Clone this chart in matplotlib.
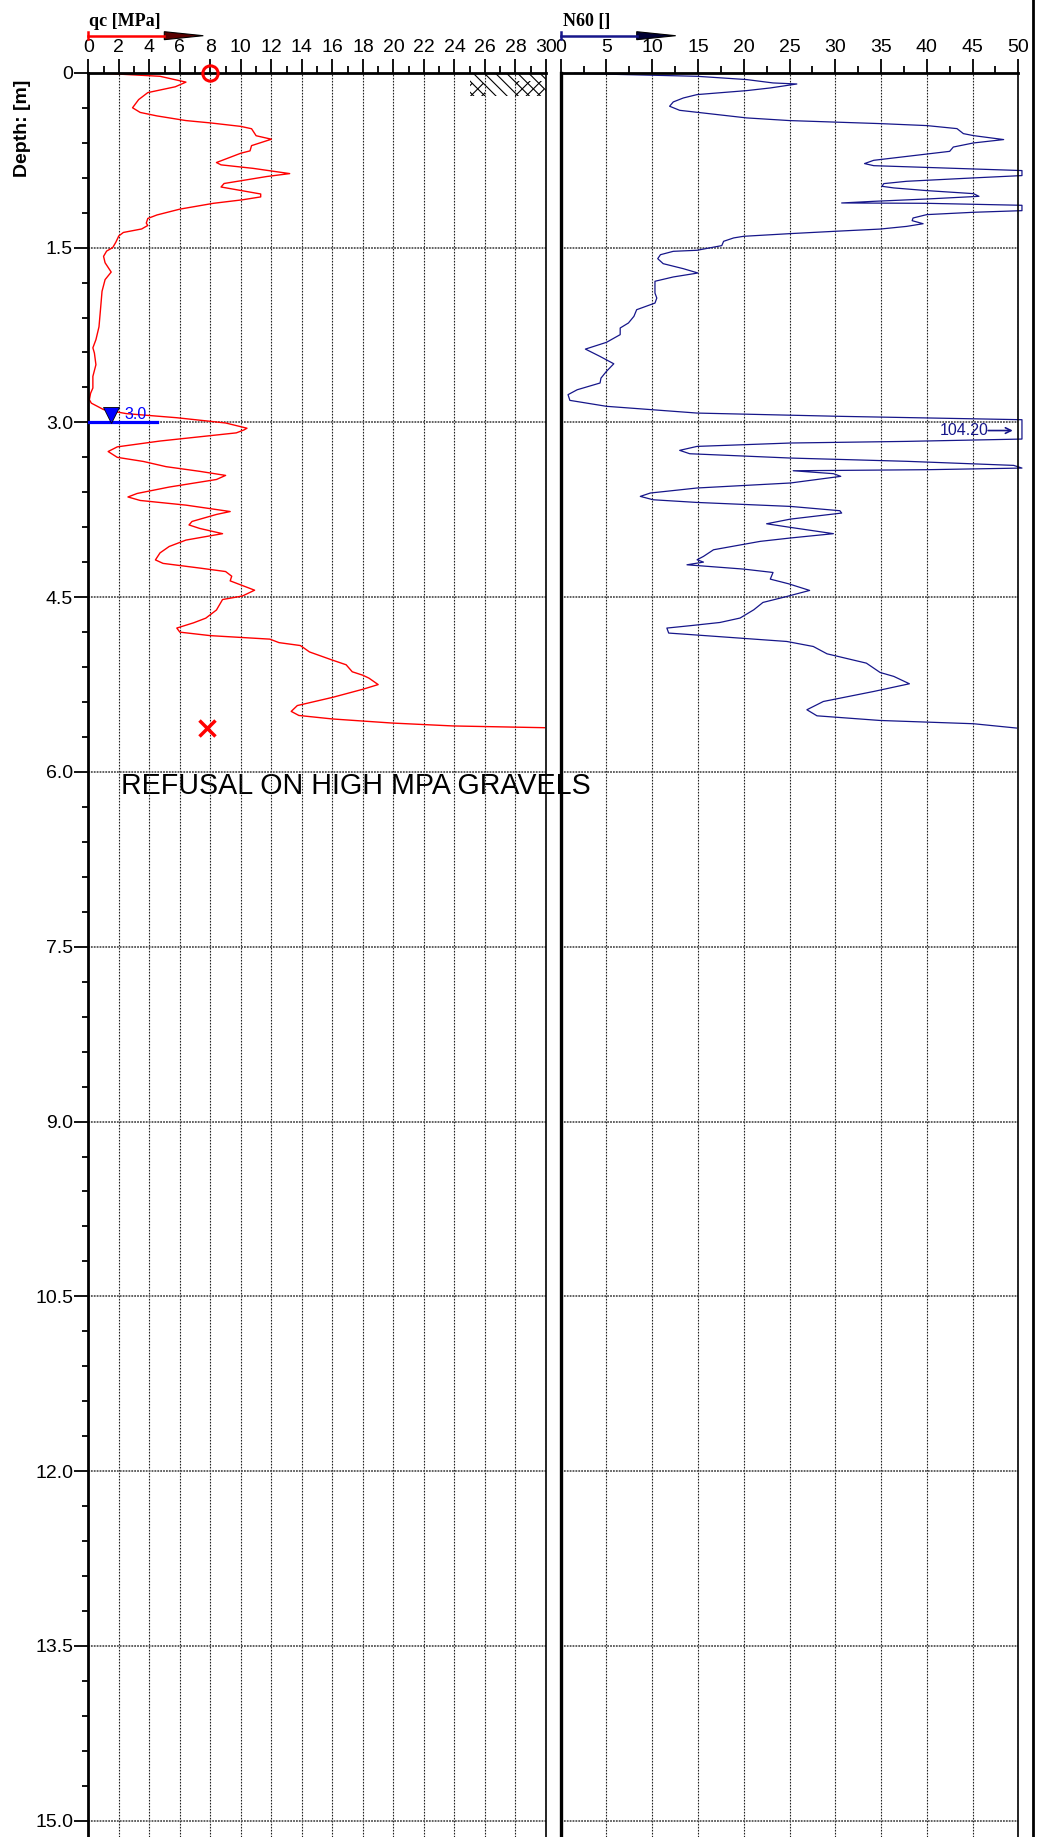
import matplotlib

matplotlib.use("Agg")
import matplotlib.pyplot as plt
from matplotlib.lines import Line2D
from matplotlib.patches import Polygon, Rectangle
from matplotlib.ticker import FixedLocator, MultipleLocator

# ---------------------------------------------------------------------------
# Data read off the CPT log
# ---------------------------------------------------------------------------

QC_DEPTH = [
    0.00, 0.03, 0.08, 0.12, 0.17, 0.23, 0.30, 0.34, 0.37, 0.41, 0.43, 0.46, 0.48,
    0.54, 0.57, 0.625, 0.67, 0.69, 0.77, 0.79, 0.82, 0.865, 0.89, 0.95, 0.98, 1.01,
    1.04, 1.065, 1.09, 1.12, 1.17, 1.22, 1.25, 1.29, 1.31, 1.34, 1.37, 1.40, 1.455,
    1.50, 1.53, 1.575, 1.63, 1.71, 1.775, 1.875, 2.03, 2.18, 2.29, 2.36, 2.405,
    2.505, 2.605, 2.705, 2.75, 2.805, 2.835, 2.89, 2.925, 2.96, 3.005, 3.05, 3.065,
    3.09, 3.16, 3.21, 3.25, 3.30, 3.335, 3.38, 3.42, 3.455, 3.49, 3.555, 3.61, 3.64,
    3.67, 3.71, 3.765, 3.79, 3.85, 3.88, 3.91, 3.955, 3.98, 4.01, 4.065, 4.12, 4.18,
    4.21, 4.25, 4.28, 4.32, 4.36, 4.39, 4.44, 4.49, 4.52, 4.61, 4.68, 4.72, 4.765,
    4.80, 4.83, 4.86, 4.89, 4.915, 4.97, 5.04, 5.08, 5.14, 5.17, 5.195, 5.25, 5.29,
    5.36, 5.43, 5.48, 5.515, 5.545, 5.58, 5.605, 5.62,
]
QC = [
    0.4, 4.7, 6.4, 5.7, 3.9, 3.3, 2.9, 3.4, 4.5, 6.4, 8.0, 10.0, 10.7,
    11.0, 12.0, 10.7, 10.6, 10.0, 8.4, 8.7, 10.8, 13.2, 11.7, 8.9, 8.7, 10.0,
    11.3, 11.3, 10.1, 8.2, 6.0, 4.5, 3.9, 3.8, 3.9, 3.5, 2.3, 2.0, 1.8,
    1.6, 1.2, 1.0, 1.1, 1.5, 1.1, 0.9, 0.8, 0.7, 0.5, 0.3, 0.4,
    0.5, 0.3, 0.3, 0.15, 0.07, 0.2, 1.0, 2.5, 5.8, 9.0, 10.4, 10.2,
    9.7, 4.7, 1.9, 1.3, 1.9, 3.6, 5.1, 7.3, 9.0, 8.4, 5.3, 3.2, 2.6,
    3.4, 6.4, 9.3, 8.4, 6.8, 6.6, 7.3, 8.8, 7.7, 6.4, 5.3, 4.7, 4.4,
    4.9, 7.3, 9.0, 9.4, 9.3, 9.9, 10.9, 10.1, 8.8, 8.4, 7.7, 6.9, 5.8,
    6.0, 8.0, 11.9, 12.5, 13.9, 14.5, 16.0, 16.9, 17.3, 18.0, 18.4, 19.0, 18.0,
    16.0, 13.7, 13.3, 13.8, 16.0, 19.9, 23.9, 29.9,
]

N60_DEPTH = [
    0.005, 0.03, 0.058, 0.087, 0.096, 0.13, 0.153, 0.187, 0.216, 0.25, 0.287, 0.322,
    0.339, 0.387, 0.41, 0.436, 0.453, 0.479, 0.522, 0.539, 0.573, 0.602, 0.637,
    0.674, 0.697, 0.751, 0.779, 0.797, 0.825, 0.839, 0.882, 0.902, 0.931, 0.951,
    0.974, 0.988, 1.011, 1.037, 1.06, 1.083, 1.103, 1.117, 1.12, 1.137, 1.183,
    1.197, 1.217, 1.246, 1.269, 1.295, 1.318, 1.341, 1.36, 1.38, 1.403, 1.417,
    1.446, 1.483, 1.523, 1.532, 1.561, 1.595, 1.638, 1.681, 1.718, 1.752, 1.789,
    1.89, 1.933, 1.976, 2.033, 2.09, 2.147, 2.19, 2.247, 2.313, 2.371, 2.434, 2.497,
    2.562, 2.62, 2.662, 2.72, 2.762, 2.811, 2.862, 2.92, 2.948, 2.977, 3.143, 3.163,
    3.177, 3.206, 3.24, 3.269, 3.306, 3.334, 3.369, 3.392, 3.406, 3.415, 3.44, 3.463,
    3.52, 3.563, 3.606, 3.635, 3.664, 3.687, 3.721, 3.758, 3.778, 3.83, 3.87, 3.901,
    3.955, 3.992, 4.021, 4.093, 4.15, 4.179, 4.199, 4.222, 4.259, 4.288, 4.345,
    4.385, 4.442, 4.494, 4.545, 4.608, 4.679, 4.717, 4.745, 4.765, 4.808, 4.825,
    4.88, 4.923, 4.986, 5.066, 5.146, 5.18, 5.243, 5.309, 5.395, 5.466, 5.518,
    5.558, 5.586, 5.623,
]
N60 = [
    1.5, 14.9, 20.3, 23.2, 25.8, 22.9, 20.3, 14.9, 13.4, 12.3, 11.9, 13.0,
    14.9, 20.3, 25.0, 34.9, 40.0, 43.3, 44.0, 45.1, 48.4, 45.1, 42.9,
    42.5, 40.0, 34.2, 33.2, 34.2, 45.1, 50.4, 50.4, 45.1, 37.8, 35.3,
    35.1, 36.4, 40.0, 45.1, 45.7, 40.0, 34.2, 30.7, 40.0, 50.4, 50.4,
    45.1, 40.0, 38.5, 38.4, 39.6, 37.8, 34.9, 30.0, 25.1, 20.0, 18.9,
    17.8, 17.6, 14.9, 12.3, 10.9, 10.6, 11.2, 13.4, 15.0, 12.3, 10.3,
    10.3, 10.5, 10.3, 8.3, 8.0, 7.4, 6.5, 6.5, 5.0, 2.7, 4.3, 5.8,
    5.0, 4.4, 4.3, 1.8, 0.8, 1.0, 5.0, 14.9, 30.5, 50.4, 50.4, 37.8,
    25.1, 14.9, 13.0, 14.1, 25.1, 37.8, 49.5, 50.4, 40.0, 25.4, 29.8, 30.6,
    25.1, 14.9, 9.8, 8.7, 10.1, 14.9, 25.1, 30.5, 30.7, 25.1, 22.5, 25.1,
    29.8, 25.1, 21.8, 16.7, 15.6, 14.9, 15.6, 13.8, 20.0, 23.2, 22.9,
    24.9, 27.2, 24.7, 22.1, 21.1, 19.6, 17.4, 14.1, 11.6, 11.8, 14.9,
    24.7, 27.6, 29.1, 33.4, 34.9, 36.4, 38.1, 34.2, 28.7, 26.9, 28.0,
    34.9, 45.1, 49.8,
]

N60_PEAK = 104.20          # value printed beside the clipped spike
N60_PEAK_DEPTH = 3.07
WATER_TABLE = 3.0
REFUSAL_DEPTH = 5.62
REFUSAL_TEXT = "REFUSAL ON HIGH MPA GRAVELS"

DEPTH_TICKS = [0, 1.5, 3.0, 4.5, 6.0, 7.5, 9.0, 10.5, 12.0, 13.5, 15.0]
DEPTH_LABELS = ["0", "1.5", "3.0", "4.5", "6.0", "7.5", "9.0", "10.5", "12.0", "13.5", "15.0"]

# ---------------------------------------------------------------------------
# Layout (pixels of the 1045 x 1837 output)
# ---------------------------------------------------------------------------

W, H = 1045, 1837
TOP = 72.8
PX_PER_M = 116.53

plt.rcParams["font.family"] = ["Liberation Sans", "DejaVu Sans"]
plt.rcParams["hatch.linewidth"] = 0.8
NARROW = ["Liberation Sans Narrow", "Liberation Sans"]

RED = "#ff0000"
NAVY = "#16168a"


def fx(px):
    return px / W


def fy(py):
    return 1 - py / H


fig = plt.figure(figsize=(W / 100, H / 100), dpi=100)
depth_max = (H - TOP) / PX_PER_M

ax_q = fig.add_axes([fx(88.3), 0, fx(546) - fx(88.3), fy(TOP)])
ax_n = fig.add_axes([fx(560.7), 0, fx(1018.3) - fx(560.7), fy(TOP)])
ax_n.patch.set_visible(False)


def style_axis(ax, xmax, major, minor):
    ax.set_xlim(0, xmax)
    ax.set_ylim(depth_max, 0)
    ax.xaxis.tick_top()
    ax.xaxis.set_major_locator(MultipleLocator(major))
    ax.xaxis.set_minor_locator(MultipleLocator(minor))
    ax.tick_params(axis="x", which="major", length=10, width=1.3, labelsize=14, pad=2,
                   top=True, bottom=False, labeltop=True, labelbottom=False)
    ax.tick_params(axis="x", which="minor", length=5, width=1.3, top=True, bottom=False)
    for lab in ax.get_xticklabels():
        lab.set_family(NARROW)
    ax.yaxis.set_major_locator(FixedLocator(DEPTH_TICKS))
    ax.xaxis.grid(True, which="major", color="#222222", lw=0.8, linestyle=(0, (1.5, 1.2)))
    ax.yaxis.grid(True, which="major", color="#555555", lw=1.3, linestyle=(0, (1, 0.6)))
    ax.spines["bottom"].set_visible(False)
    ax.spines["top"].set_linewidth(2.0)
    ax.spines["left"].set_linewidth(2.0)
    ax.spines["right"].set_linewidth(1.2)


style_axis(ax_q, 30, 2, 1)
style_axis(ax_n, 50, 5, 2.5)

ax_q.yaxis.set_ticklabels(DEPTH_LABELS, family=NARROW)
ax_q.yaxis.set_minor_locator(MultipleLocator(0.3))
ax_q.tick_params(axis="y", which="major", length=10, width=1.3, labelsize=14, pad=1)
ax_q.tick_params(axis="y", which="minor", length=4.5, width=1.3)
ax_n.tick_params(axis="y", which="both", length=0, labelleft=False)
ax_n.spines["left"].set_linewidth(2.4)

# curves
ax_q.plot(QC, QC_DEPTH, color=RED, lw=1.0)
ax_n.plot(N60, N60_DEPTH, color=NAVY, lw=0.9, clip_on=False)

# soil symbol at the top right of qc track
ax_q.add_patch(Rectangle((25, 0), 5, 0.2, fill=False, hatch="\\\\\\", edgecolor="black", lw=0))
ax_q.add_patch(Rectangle((28, 0.07), 1.9, 0.13, fill=False, hatch="///", edgecolor="black", lw=0))
ax_q.add_patch(Rectangle((25, 0.09), 1.0, 0.11, fill=False, hatch="///", edgecolor="black", lw=0))

# start / refusal markers
ax_q.plot(8, 0, "o", mfc="none", mec=RED, ms=11, mew=2.2, clip_on=False, zorder=5)
ax_q.plot(7.8, REFUSAL_DEPTH, "x", color=RED, ms=11, mew=2.5, zorder=5)

# water table
ax_q.plot([0, 4.5], [WATER_TABLE, WATER_TABLE], color="#0000ff", lw=2.3, zorder=4)
ax_q.plot(1.48, WATER_TABLE - 0.06, "v", color="#0000ff", mec="black", mew=0.6, ms=11, zorder=5)
ax_q.text(2.4, WATER_TABLE - 0.065, f"{WATER_TABLE:.1f}", color="#0000ff", fontsize=11.5,
          va="center", ha="left")

# refusal note (spans both tracks, under the spines)
ax_q.text(2.12, 6.187, REFUSAL_TEXT, fontsize=20.6, va="baseline", ha="left",
          clip_on=False, zorder=1)

# clipped N60 spike value
ax_n.text(41.4, N60_PEAK_DEPTH, f"{N60_PEAK:.2f}", color=NAVY, fontsize=11.5, va="center")
ax_n.annotate("", xy=(49.7, N60_PEAK_DEPTH), xytext=(46.4, N60_PEAK_DEPTH),
              arrowprops={"arrowstyle": "->", "color": NAVY, "lw": 1.2})

# headers
fig.text(fx(89), fy(26), "qc [MPa]", family="Liberation Serif", fontweight="bold",
         fontsize=13, va="baseline", ha="left")
fig.text(fx(562.7), fy(26), "N60 []", family="Liberation Serif", fontweight="bold",
         fontsize=13, va="baseline", ha="left")
fig.text(fx(22.7), fy(128), "Depth: [m]", rotation=90, fontweight="bold", fontsize=14,
         ha="center", va="center")


def header_arrow(x0, y, color, head):
    fig.add_artist(Line2D([fx(x0), fx(x0 + 76)], [fy(y), fy(y)], color=color, lw=1.8))
    fig.add_artist(Line2D([fx(x0), fx(x0)], [fy(y - 3.5), fy(y + 3.5)], color=color, lw=1.8))
    fig.add_artist(Polygon([[fx(x0 + 76), fy(y - 4)], [fx(x0 + 115), fy(y)],
                            [fx(x0 + 76), fy(y + 4)]], closed=True, facecolor=head,
                           edgecolor="black", lw=0.8, transform=fig.transFigure))


header_arrow(88.3, 35.7, RED, "#5a0000")
header_arrow(560.7, 35.7, NAVY, "#000033")

# outer frame line on the right
fig.add_artist(Line2D([fx(1033), fx(1033)], [0, 1], color="black", lw=2.0))

fig.savefig("out.png", dpi=100)
